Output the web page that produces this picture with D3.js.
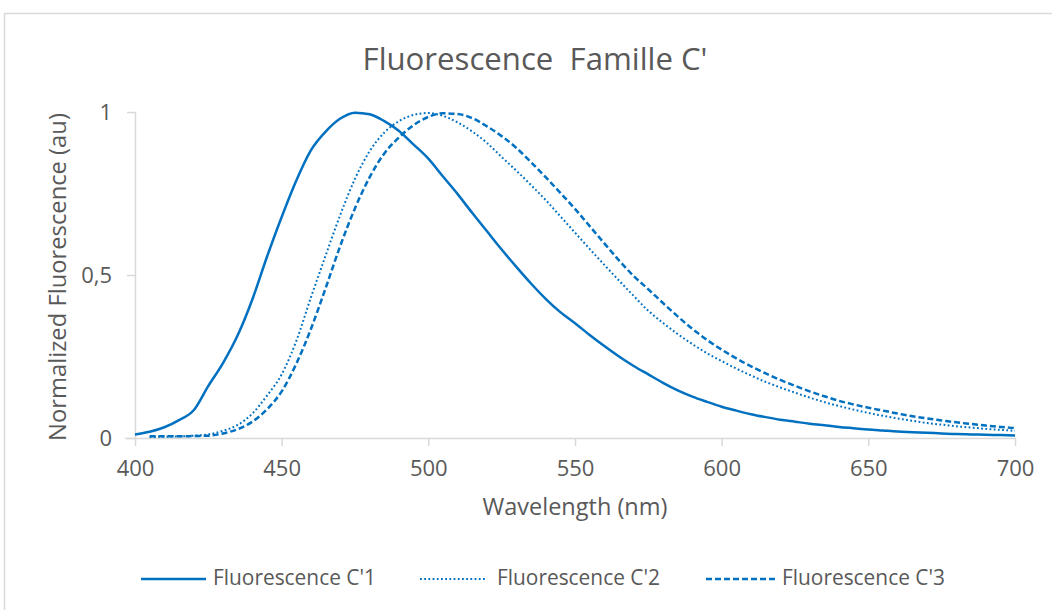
<!DOCTYPE html>
<html><head><meta charset="utf-8">
<script src="https://cdnjs.cloudflare.com/ajax/libs/d3/7.8.5/d3.min.js"></script>
<style>body{margin:0;background:#fff;}svg{display:block;font-family:"Open Sans",sans-serif;}</style>
</head><body><svg id="c" width="1052" height="610"></svg>
<script>
const title = "Fluorescence  Famille C'";
const xTitle = "Wavelength (nm)";
const yTitle = "Normalized Fluorescence (au)";
const xTicks = [400, 450, 500, 550, 600, 650, 700];
const yTicks = [0, 0.5, 1];
const yTickLabels = ["0", "0,5", "1"];
const seriesNames = ["Fluorescence C'1", "Fluorescence C'2", "Fluorescence C'3"];

const wl1 = [400,405,410,415,420,425,430,435,440,445,450,455,460,465,470,475,480,485,490,495,500,505,510,515,520,525,530,535,540,545,550,555,560,565,570,575,580,585,590,595,600,605,610,615,620,625,630,635,640,645,650,655,660,665,670,675,680,685,690,695,700];
const c1 = [0.011,0.019,0.033,0.055,0.085,0.160,0.230,0.315,0.425,0.556,0.678,0.790,0.883,0.940,0.980,0.998,0.993,0.972,0.942,0.900,0.857,0.802,0.748,0.690,0.634,0.578,0.525,0.474,0.427,0.386,0.352,0.316,0.282,0.250,0.221,0.195,0.169,0.146,0.127,0.111,0.096,0.084,0.073,0.064,0.056,0.050,0.044,0.039,0.034,0.030,0.026,0.023,0.020,0.018,0.016,0.014,0.012,0.011,0.010,0.009,0.008];

const wl23 = [405,410,415,420,425,430,435,440,445,450,455,460,465,470,475,480,485,490,495,500,505,510,515,520,525,530,535,540,545,550,555,560,565,570,575,580,585,590,595,600,605,610,615,620,625,630,635,640,645,650,655,660,665,670,675,680,685,690,695,700];
const c2 = [0.003,0.004,0.005,0.007,0.011,0.022,0.040,0.075,0.130,0.195,0.298,0.432,0.560,0.685,0.795,0.880,0.937,0.972,0.991,0.997,0.988,0.968,0.940,0.905,0.862,0.820,0.776,0.730,0.680,0.630,0.580,0.531,0.483,0.436,0.390,0.353,0.319,0.288,0.260,0.236,0.213,0.192,0.172,0.155,0.139,0.124,0.110,0.098,0.087,0.077,0.068,0.060,0.053,0.046,0.041,0.036,0.032,0.028,0.025,0.022];
const c3 = [0.005,0.005,0.005,0.006,0.007,0.014,0.027,0.050,0.088,0.143,0.228,0.335,0.460,0.590,0.705,0.800,0.873,0.922,0.960,0.985,0.996,0.994,0.981,0.956,0.926,0.890,0.846,0.800,0.752,0.703,0.650,0.597,0.545,0.497,0.456,0.414,0.373,0.335,0.301,0.271,0.244,0.220,0.198,0.178,0.160,0.143,0.128,0.114,0.103,0.093,0.084,0.075,0.067,0.060,0.054,0.048,0.043,0.038,0.034,0.030];

const svg = d3.select("#c");
const W = 1052, H = 610;
const m = {left: 135, right: 1015, top: 112, bottom: 438};
const x = d3.scaleLinear().domain([400, 700]).range([m.left, m.right]);
const y = d3.scaleLinear().domain([0, 1]).range([m.bottom, m.top]);
const blue = "#0070C0";
const axisGray = "#d9d9d9";
const textGray = "#595959";

svg.append("path").attr("d", `M4.5,${H} L4.5,13.5 L${W},13.5`).attr("fill","none").attr("stroke","#d9d9d9").attr("stroke-width",1.5);

function fit(sel, target) {
  const w = sel.node().getComputedTextLength();
  const fs = parseFloat(sel.attr("font-size"));
  sel.attr("font-size", (fs * target / w).toFixed(2));
}

const t = svg.append("text").attr("x", 535).attr("y", 70).attr("text-anchor","middle")
  .attr("font-size", 26).attr("fill", textGray).style("white-space","pre").text(title);
fit(t, 345);

const xAxis = d3.axisBottom(x).tickValues(xTicks).tickSize(8).tickPadding(14).tickFormat(d3.format("d"));
const gx = svg.append("g").attr("transform", `translate(0,${m.bottom})`).call(xAxis);
gx.select(".domain").attr("stroke", axisGray).attr("stroke-width", 1.5).attr("d", `M${m.left-10},0.5H${m.right}`);
gx.selectAll(".tick line").attr("stroke", axisGray).attr("stroke-width", 1.5);
gx.selectAll(".tick text").attr("fill", textGray).style("font-size", "22px").style("font-family", "Open Sans");

const yAxis = d3.axisLeft(y).tickValues(yTicks).tickSize(8).tickPadding(15).tickFormat((d,i) => yTickLabels[i]);
const gy = svg.append("g").attr("transform", `translate(${m.left},0)`).call(yAxis);
gy.select(".domain").attr("stroke", axisGray).attr("stroke-width", 1.5).attr("d", `M0.5,${m.top}V${m.bottom}`);
gy.selectAll(".tick line").attr("stroke", axisGray).attr("stroke-width", 1.5);
gy.selectAll(".tick text").attr("fill", textGray).style("font-size", "22px").style("font-family", "Open Sans");

const xt = svg.append("text").attr("x", 575).attr("y", 515).attr("text-anchor","middle")
  .attr("font-size", 20).attr("fill", textGray).text(xTitle);
fit(xt, 185);
const yt = svg.append("text").attr("transform", "translate(66,277) rotate(-90)").attr("text-anchor","middle")
  .attr("font-size", 20).attr("fill", textGray).text(yTitle);
fit(yt, 328);

const line = d3.line().x(d => x(d[0])).y(d => y(d[1])).curve(d3.curveMonotoneX);
const series = [
  {name: seriesNames[0], data: d3.zip(wl1, c1), width: 2.5, dash: null},
  {name: seriesNames[1], data: d3.zip(wl23, c2), width: 2, dash: "1.8,2.4"},
  {name: seriesNames[2], data: d3.zip(wl23, c3), width: 2.5, dash: "6,3"}
];
series.forEach(s => {
  svg.append("path").attr("d", line(s.data)).attr("fill","none").attr("stroke", blue)
    .attr("stroke-width", s.width).attr("stroke-dasharray", s.dash).attr("stroke-linejoin","round");
});

const legendPos = [{x1:141, x2:206, tx:213}, {x1:420, x2:485, tx:497}, {x1:706, x2:775, tx:782}];
const ly = 579;
series.forEach((s, i) => {
  const p = legendPos[i];
  svg.append("line").attr("x1", p.x1).attr("x2", p.x2).attr("y1", ly).attr("y2", ly)
    .attr("stroke", blue).attr("stroke-width", s.width).attr("stroke-dasharray", s.dash);
  const lt = svg.append("text").attr("x", p.tx).attr("y", ly + 6).attr("font-size", 18)
    .attr("fill", textGray).text(s.name);
  fit(lt, 163);
});
</script></body></html>
